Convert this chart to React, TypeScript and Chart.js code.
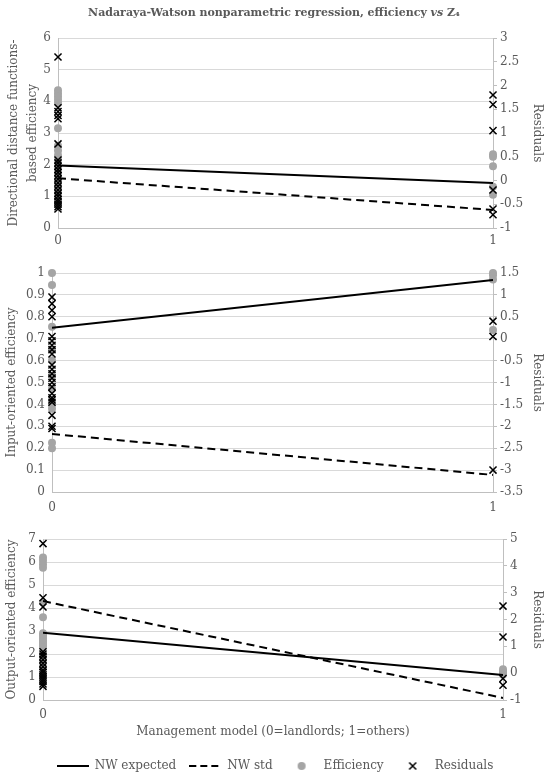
import { useEffect, useRef } from "react"
import { Chart, registerables } from "chart.js"

Chart.register(...registerables)

const FONT = "'DejaVu Serif', serif"
const TEXT = "#595959"
const GRID = "#d9d9d9"
const AXIS = "#bfbfbf"
const GREY = "#a5a5a5"

// management model: 0 = landlords, 1 = others
const categories = [0, 1]
const seriesNames = ["NW expected", "NW std", "Efficiency", "Residuals"]

// directional distance functions-based efficiency
const ddfExpected = [1.97, 1.42]
const ddfStd = [1.57, 0.57]
const ddfEffLandlords = [4.35, 4.25, 4.15, 4.05, 3.95, 3.15, 2.6, 2.45, 2.3, 2.15, 1.95, 1.8, 1.65, 1.5, 1.35, 1.2, 1.1, 1.0, 0.9, 0.8, 0.7]
const ddfEffOthers = [2.33, 2.25, 1.95, 1.3, 1.05]
const ddfResLandlords = [2.6, 1.53, 1.45, 1.37, 1.3, 0.77, 0.43, 0.37, 0.3, 0.23, 0.17, 0.1, 0.03, -0.05, -0.12, -0.2, -0.27, -0.33, -0.4, -0.45, -0.5, -0.55, -0.6]
const ddfResOthers = [1.8, 1.6, 1.05, -0.2, -0.6, -0.72]

// input-oriented efficiency
const inExpected = [0.75, 0.968]
const inStd = [0.265, 0.078]
const inEffLandlords = [1.0, 0.945, 0.755, 0.65, 0.6, 0.53, 0.47, 0.4, 0.38, 0.225, 0.2]
const inEffOthers = [1.0, 0.99, 0.97, 0.74]
const inResLandlords = [0.95, 0.8, 0.65, 0.5, 0.05, -0.05, -0.15, -0.25, -0.35, -0.6, -0.7, -0.8, -0.9, -1.0, -1.1, -1.25, -1.35, -1.4, -1.45, -1.75, -2.0, -2.05]
const inResOthers = [0.4, 0.05, -3.0]

// output-oriented efficiency
const outExpected = [2.92, 1.09]
const outStd = [4.3, 0.09]
const outEffLandlords = [6.2, 6.05, 5.9, 5.75, 4.25, 3.6, 2.9, 2.8, 2.7, 2.6, 2.5, 2.4, 2.3, 2.0, 1.7, 1.4, 1.1]
const outEffOthers = [1.34, 1.25, 1.17, 1.1]
const outResLandlords = [4.83, 2.81, 2.47, 0.8, 0.71, 0.63, 0.5, 0.37, 0.24, 0.11, 0.03, -0.06, -0.14, -0.23, -0.31, -0.4, -0.49]
const outResOthers = [2.5, 1.35, -0.2, -0.45]

type PanelProps = {
  expected: number[]
  std: number[]
  effLandlords: number[]
  effOthers: number[]
  resLandlords: number[]
  resOthers: number[]
  yTitle: string | string[]
  yRange: [number, number, number]
  rRange: [number, number, number]
  height: number
  padTop: number
  leftW: number
  rightW: number
  xH: number
  xTickPad: number
  yTitleLine?: number
  mainTitle?: boolean
  bottom?: boolean
}

const pts = (x: number, ys: number[]) => ys.map((y) => ({ x, y }))
const line = (ys: number[]) => categories.map((c, i) => ({ x: c, y: ys[i] }))
const fmt = (v: number | string) => String(Number(Number(v).toFixed(2)))

function makeMarker(kind: string) {
  const c = document.createElement("canvas")
  c.width = 32
  c.height = 14
  const g = c.getContext("2d")!
  g.strokeStyle = "#000"
  if (kind === "solid" || kind === "dashed") {
    g.lineWidth = 2
    if (kind === "dashed") g.setLineDash([7, 4])
    g.beginPath()
    g.moveTo(0, 7)
    g.lineTo(32, 7)
    g.stroke()
  } else if (kind === "circle") {
    g.fillStyle = GREY
    g.beginPath()
    g.arc(16, 7, 4, 0, Math.PI * 2)
    g.fill()
  } else {
    g.lineWidth = 1.5
    g.beginPath()
    g.moveTo(12.5, 3.5)
    g.lineTo(19.5, 10.5)
    g.moveTo(19.5, 3.5)
    g.lineTo(12.5, 10.5)
    g.stroke()
  }
  return c
}

const titlePlugin = {
  id: "mixedTitle",
  afterDraw(chart: Chart) {
    const ctx = chart.ctx
    const size = 11
    const parts = [
      { t: "Nadaraya-Watson nonparametric regression, efficiency ", f: `bold ${size}px ${FONT}` },
      { t: "vs", f: `italic bold ${size}px ${FONT}` },
      { t: " Z₄", f: `bold ${size}px ${FONT}` },
    ]
    ctx.save()
    let total = 0
    for (const p of parts) {
      ctx.font = p.f
      total += ctx.measureText(p.t).width
    }
    let x = 274 - total / 2
    ctx.textBaseline = "middle"
    ctx.textAlign = "left"
    ctx.fillStyle = TEXT
    for (const p of parts) {
      ctx.font = p.f
      ctx.fillText(p.t, x, 13)
      x += ctx.measureText(p.t).width
    }
    ctx.restore()
  },
}

function Panel(props: PanelProps) {
  const chartRef = useRef<HTMLCanvasElement>(null)
  const chartInstance = useRef<Chart | null>(null)

  useEffect(() => {
    if (!chartRef.current) return
    if (chartInstance.current) chartInstance.current.destroy()

    const markers = [makeMarker("solid"), makeMarker("dashed"), makeMarker("circle"), makeMarker("cross")]
    const tickFont = { family: FONT, size: 12 }
    const titleFont = { family: FONT, size: 12, lineHeight: props.yTitleLine || 1.2 }

    chartInstance.current = new Chart(chartRef.current, {
      type: "scatter",
      data: {
        datasets: [
          {
            label: seriesNames[0],
            data: line(props.expected),
            showLine: true,
            borderColor: "#000",
            borderWidth: 2,
            pointRadius: 0,
            yAxisID: "y",
            order: 2,
          },
          {
            label: seriesNames[1],
            data: line(props.std),
            showLine: true,
            borderColor: "#000",
            borderWidth: 2,
            borderDash: [8, 5],
            pointRadius: 0,
            yAxisID: "y",
            order: 2,
          },
          {
            label: seriesNames[2],
            data: [...pts(0, props.effLandlords), ...pts(1, props.effOthers)],
            pointStyle: "circle",
            pointRadius: 4,
            backgroundColor: GREY,
            borderColor: GREY,
            borderWidth: 0,
            yAxisID: "y",
            clip: false,
            order: 3,
          },
          {
            label: seriesNames[3],
            data: [...pts(0, props.resLandlords), ...pts(1, props.resOthers)],
            pointStyle: "crossRot",
            pointRadius: 5,
            borderColor: "#000",
            borderWidth: 1.5,
            yAxisID: "y1",
            clip: false,
            order: 1,
          },
        ],
      },
      options: {
        animation: false,
        responsive: true,
        maintainAspectRatio: false,
        events: [],
        layout: { padding: { top: props.padTop, left: 0, right: 0, bottom: 0 } },
        plugins: {
          title: { display: false },
          tooltip: { enabled: false },
          legend: {
            display: !!props.bottom,
            position: "bottom",
            labels: {
              usePointStyle: true,
              pointStyleWidth: 32,
              padding: 13,
              color: TEXT,
              font: { family: FONT, size: 12 },
              generateLabels: (chart: Chart) => {
                const items = Chart.defaults.plugins.legend.labels.generateLabels(chart)
                items.forEach((it: any) => {
                  it.pointStyle = markers[it.datasetIndex]
                })
                return items.sort((a: any, b: any) => a.datasetIndex - b.datasetIndex)
              },
            },
          },
        },
        scales: {
          x: {
            type: "linear",
            min: 0,
            max: 1,
            ticks: { stepSize: 1, padding: props.xTickPad, color: TEXT, font: tickFont, callback: fmt },
            grid: { display: false, drawTicks: false },
            border: { display: true, color: AXIS },
            title: {
              display: !!props.bottom,
              text: "Management model (0=landlords; 1=others)",
              color: TEXT,
              font: { family: FONT, size: 12 },
              padding: { top: 0, bottom: 8 },
            },
            afterFit: (s: any) => {
              s.height = props.xH
            },
          },
          y: {
            position: "left",
            min: props.yRange[0],
            max: props.yRange[1],
            ticks: { stepSize: props.yRange[2], padding: 7, color: TEXT, font: tickFont, callback: fmt },
            grid: { color: GRID, drawTicks: false },
            border: { color: AXIS },
            title: { display: true, text: props.yTitle, color: TEXT, font: titleFont, padding: { top: 5 } },
            afterFit: (s: any) => {
              s.width = props.leftW
            },
          },
          y1: {
            position: "right",
            min: props.rRange[0],
            max: props.rRange[1],
            ticks: { stepSize: props.rRange[2], padding: 3, color: TEXT, font: tickFont, callback: fmt },
            grid: { drawOnChartArea: false, drawTicks: true, tickLength: 4, color: AXIS },
            border: { color: AXIS },
            title: { display: true, text: "Residuals", color: TEXT, font: { family: FONT, size: 12 }, padding: { top: 6 } },
            afterFit: (s: any) => {
              s.width = props.rightW
            },
          },
        },
      },
      plugins: props.mainTitle ? [titlePlugin] : [],
    } as any)

    return () => {
      if (chartInstance.current) {
        chartInstance.current.destroy()
        chartInstance.current = null
      }
    }
  }, [])

  return (
    <div style={{ position: "relative", width: 550, height: props.height }}>
      <canvas ref={chartRef} />
    </div>
  )
}

export default function App() {
  return (
    <div style={{ position: "absolute", left: 0, top: 0, width: 550, height: 782, background: "#fff" }}>
      <Panel
        expected={ddfExpected}
        std={ddfStd}
        effLandlords={ddfEffLandlords}
        effOthers={ddfEffOthers}
        resLandlords={ddfResLandlords}
        resOthers={ddfResOthers}
        yTitle={["Directional distance functions-", "based efficiency"]}
        yTitleLine={1.55}
        yRange={[0, 6, 1]}
        rRange={[-1, 3, 0.5]}
        height={250}
        padTop={38}
        leftW={58}
        rightW={57}
        xH={22}
        xTickPad={6}
        mainTitle
      />
      <Panel
        expected={inExpected}
        std={inStd}
        effLandlords={inEffLandlords}
        effOthers={inEffOthers}
        resLandlords={inResLandlords}
        resOthers={inResOthers}
        yTitle="Input-oriented efficiency"
        yRange={[0, 1, 0.1]}
        rRange={[-3.5, 1.5, 0.5]}
        height={270}
        padTop={23}
        leftW={52}
        rightW={57}
        xH={28}
        xTickPad={9}
      />
      <Panel
        expected={outExpected}
        std={outStd}
        effLandlords={outEffLandlords}
        effOthers={outEffOthers}
        resLandlords={outResLandlords}
        resOthers={outResOthers}
        yTitle="Output-oriented efficiency"
        yRange={[0, 7, 1]}
        rRange={[-1, 5, 1]}
        height={262}
        padTop={19}
        leftW={43}
        rightW={47}
        xH={47}
        xTickPad={8}
        bottom
      />
    </div>
  )
}
